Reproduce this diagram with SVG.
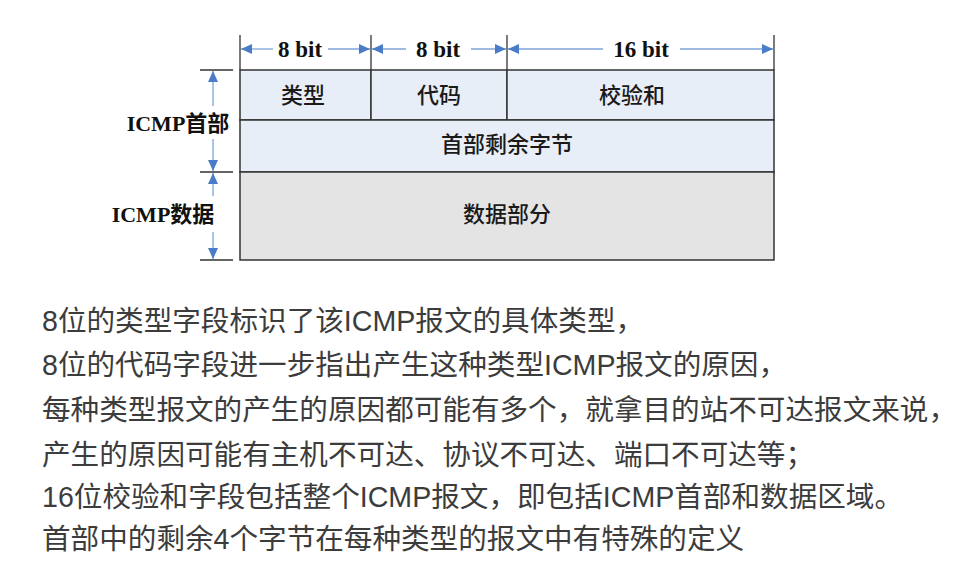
<svg xmlns="http://www.w3.org/2000/svg" width="975" height="584" viewBox="0 0 975 584">
<defs>
<marker id="ah" markerUnits="userSpaceOnUse" markerWidth="12" markerHeight="10" refX="11" refY="5" orient="auto">
<path d="M0,0 L11,5 L0,10 z" fill="#4a7cc8"/>
</marker>
<style>
.cell-h{fill:#e8eef7;stroke:#333;stroke-width:1.5}
.cell-d{fill:#e4e4e4;stroke:#333;stroke-width:1.5}
.tick{stroke:#333;stroke-width:1.3}
.arr{stroke:#7ea3d8;stroke-width:1.3;fill:none;marker-end:url(#ah)}
.bit{font-family:"Liberation Serif",serif;font-weight:bold;font-size:23px;fill:#111;text-anchor:middle}
.lbl{font-family:"Liberation Serif","Noto Sans CJK SC",serif;font-weight:bold;font-size:22px;fill:#111;text-anchor:middle}
.ct{font-family:"Noto Sans CJK SC",sans-serif;font-size:22px;font-weight:500;fill:#1a1a1a;text-anchor:middle}
.para{font-family:"Liberation Sans","Noto Sans CJK SC",sans-serif;font-size:28.6px;fill:#3c3c3c}
</style>
</defs>
<rect width="975" height="584" fill="#ffffff"/>

<g id="cells">
<g id="type"><rect class="cell-h" x="240" y="70" width="131" height="50"/><text class="ct" x="303" y="103">类型</text></g>
<g id="code"><rect class="cell-h" x="371" y="70" width="136" height="50"/><text class="ct" x="439" y="103">代码</text></g>
<g id="checksum"><rect class="cell-h" x="507" y="70" width="267" height="50"/><text class="ct" x="632" y="103">校验和</text></g>
<g id="rest"><rect class="cell-h" x="240" y="120" width="534" height="52"/><text class="ct" x="507" y="152">首部剩余字节</text></g>
<g id="data"><rect class="cell-d" x="240" y="172" width="534" height="88"/><text class="ct" x="507" y="222">数据部分</text></g>
</g>

<g id="ticks">
<line class="tick" x1="240" y1="35" x2="240" y2="70"/>
<line class="tick" x1="371" y1="35" x2="371" y2="70"/>
<line class="tick" x1="507" y1="35" x2="507" y2="70"/>
<line class="tick" x1="774" y1="35" x2="774" y2="70"/>
<line class="tick" x1="200" y1="70" x2="233" y2="70"/>
<line class="tick" x1="200" y1="172" x2="233" y2="172"/>
<line class="tick" x1="200" y1="260" x2="233" y2="260"/>
</g>

<g id="connectors">
<line class="arr" x1="273" y1="49" x2="241" y2="49"/>
<line class="arr" x1="328" y1="49" x2="370" y2="49"/>
<line class="arr" x1="406" y1="49" x2="372" y2="49"/>
<line class="arr" x1="471" y1="49" x2="506" y2="49"/>
<line class="arr" x1="603" y1="49" x2="508" y2="49"/>
<line class="arr" x1="680" y1="49" x2="773" y2="49"/>
<line class="arr" x1="213" y1="106" x2="213" y2="71"/>
<line class="arr" x1="213" y1="139" x2="213" y2="171"/>
<line class="arr" x1="213" y1="196" x2="213" y2="173"/>
<line class="arr" x1="213" y1="232" x2="213" y2="259"/>
</g>

<g id="bit-labels">
<text class="bit" x="300" y="57">8 bit</text>
<text class="bit" x="438" y="57">8 bit</text>
<text class="bit" x="641" y="57">16 bit</text>
</g>

<g id="side-labels">
<text class="lbl" x="178" y="131">ICMP首部</text>
<text class="lbl" x="163" y="222">ICMP数据</text>
</g>

<g id="paragraph">
<text class="para" x="42" y="331">8位的类型字段标识了该ICMP报文的具体类型，</text>
<text class="para" x="42" y="375">8位的代码字段进一步指出产生这种类型ICMP报文的原因，</text>
<text class="para" x="42" y="420">每种类型报文的产生的原因都可能有多个，就拿目的站不可达报文来说，</text>
<text class="para" x="42" y="465">产生的原因可能有主机不可达、协议不可达、端口不可达等；</text>
<text class="para" x="42" y="507">16位校验和字段包括整个ICMP报文，即包括ICMP首部和数据区域。</text>
<text class="para" x="42" y="549">首部中的剩余4个字节在每种类型的报文中有特殊的定义</text>
</g>
</svg>
